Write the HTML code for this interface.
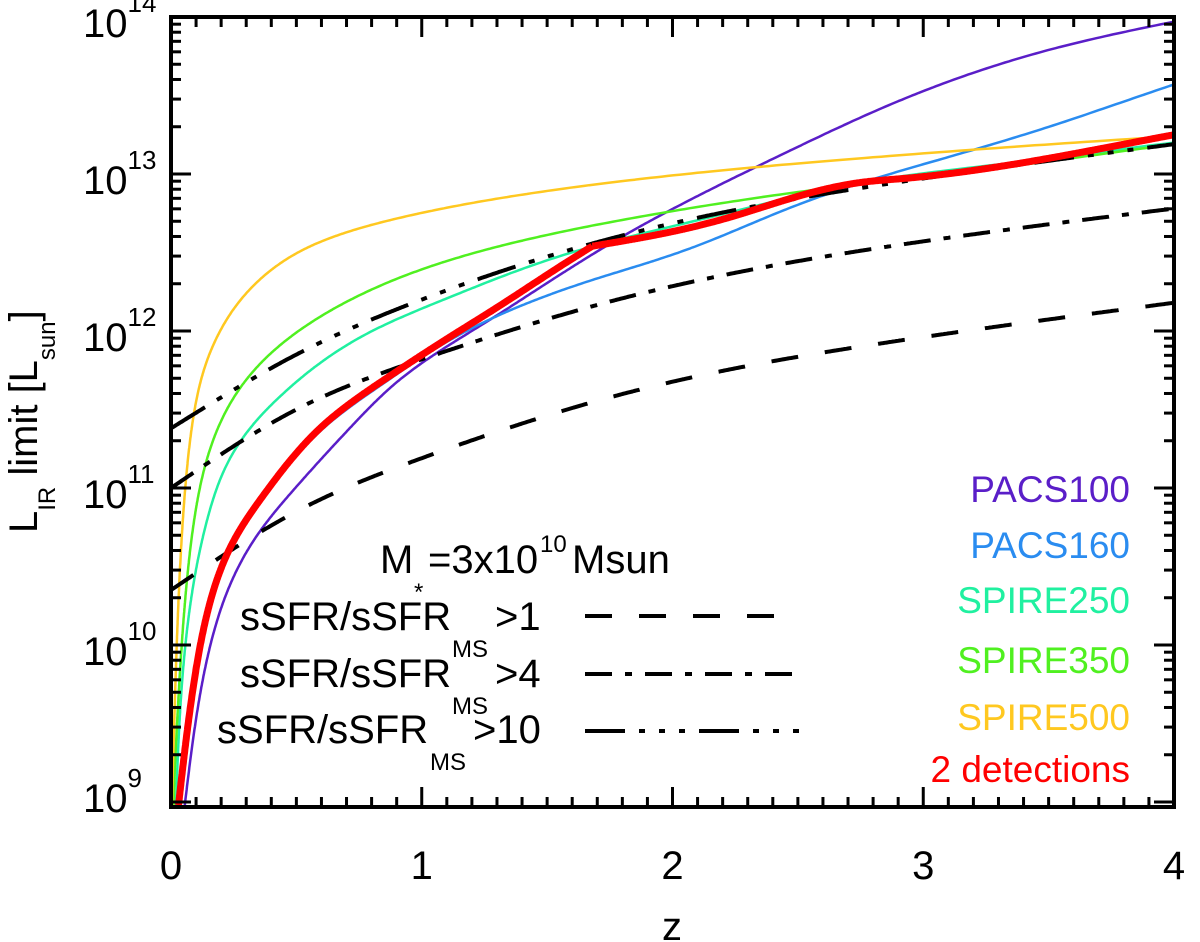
<!DOCTYPE html>
<html><head><meta charset="utf-8"><style>
html,body{margin:0;padding:0;background:#fff;}
svg{display:block;font-family:"Liberation Sans",Arial,sans-serif;}
</style></head><body>
<svg id="chart" width="1200" height="942" viewBox="0 0 1200 942">
<g id="curves"></g>
<rect x="171" y="17" width="1003" height="790" fill="none" stroke="#000" stroke-width="4"/>
<g id="ticks"></g>
<g id="labels" font-size="40"></g>
<text x="672" y="940" font-size="40" text-anchor="middle">z</text>
<text transform="translate(37,533) rotate(-90)" font-size="40">L<tspan font-size="24" dy="18">IR</tspan><tspan dy="-18"> limit [L</tspan><tspan font-size="24" dy="18">sun</tspan><tspan dy="-18">]</tspan></text>
<g font-size="37" text-anchor="end">
<text x="1130" y="502" fill="#5a1ec8">PACS100</text>
<text x="1130" y="558" fill="#2a8cf0">PACS160</text>
<text x="1130" y="613" fill="#20f0a0">SPIRE250</text>
<text x="1130" y="673" fill="#50f020">SPIRE350</text>
<text x="1130" y="730" fill="#ffc820">SPIRE500</text>
<text x="1130" y="782" fill="#ff0000">2 detections</text>
</g>
<g font-size="40">
<text x="380" y="573">M</text>
<text x="414" y="600" font-size="24">*</text>
<text x="428" y="573">=3x10</text>
<text x="540" y="552" font-size="24">10</text>
<text x="572" y="573">Msun</text>
<text x="240" y="630">sSFR/sSFR</text>
<text x="452" y="657" font-size="24">MS</text>
<text x="495" y="630">&gt;1</text>
<text x="240" y="687">sSFR/sSFR</text>
<text x="452" y="714" font-size="24">MS</text>
<text x="495" y="687">&gt;4</text>
<text x="217" y="743">sSFR/sSFR</text>
<text x="430" y="770" font-size="24">MS</text>
<text x="473" y="743">&gt;10</text>
<line x1="585" y1="616" x2="775" y2="616" stroke="#000" stroke-width="4" stroke-dasharray="27,27"/>
<line x1="585" y1="674" x2="805" y2="674" stroke="#000" stroke-width="4" stroke-dasharray="27,13,7,13"/>
<line x1="585" y1="731" x2="805" y2="731" stroke="#000" stroke-width="4" stroke-dasharray="40,14,6,14,6,14,6,14"/>
</g>
</svg>
<script>
const pacs100Z=[0.055,0.1,0.24,0.49,0.73,0.89,1.3,1.82,2.47,2.91,3.5,4];
const pacs100L=[8.98,9.53,10.4,10.99,11.41,11.66,12.1,12.62,13.15,13.47,13.79,13.97];
const pacs160Z=[0.035,0.11,0.27,0.367,0.594,0.86,1.11,1.71,2.11,2.51,2.91,3.5,4];
const pacs160L=[8.98,9.92,10.7,10.93,11.36,11.68,11.94,12.34,12.55,12.81,13.02,13.3,13.57];
const spire250Z=[0.02,0.04,0.135,0.195,0.46,0.79,1.15,1.64,2.24,2.77,3.4,4];
const spire250L=[8.98,9.67,10.74,11.05,11.62,11.99,12.24,12.52,12.76,12.95,13.08,13.2];
const spire350Z=[0.01,0.03,0.11,0.195,0.594,1.15,1.95,2.77,3.4,4];
const spire350L=[8.98,9.67,10.96,11.41,12.09,12.47,12.75,12.94,13.06,13.19];
const spire500Z=[0.004,0.016,0.1,0.18,0.37,0.53,0.91,2.31,2.91,4];
const spire500L=[8.98,9.67,11.55,11.95,12.35,12.52,12.72,13.04,13.12,13.24];
const detZ=[0.03,0.11,0.27,0.367,0.594,0.86,1.15,1.3,1.68,2.24,2.77,2.91,3.5,4];
const detL=[8.98,9.94,10.72,10.95,11.38,11.70,12.0,12.15,12.54,12.73,12.95,12.97,13.1,13.25];
const ssfrZ=[0,0.5,1,1.78,2.91,4];
const ssfr1L=[10.35,10.85,11.19,11.59,11.94,12.18];
const ssfr4L=[11.0,11.5,11.82,12.2,12.55,12.78];
const ssfr10L=[11.38,11.85,12.2,12.6,12.95,13.19];
const xTicks=[0,1,2,3,4];
const yTicks=[9,10,11,12,13,14];

const X0=171,X1=1174,YT=17,YB=807;
const xS=z=>X0+(z/4)*(X1-X0);
const yS=l=>YT+(14-l)*157;
const NS='http://www.w3.org/2000/svg';
function spline(xs,ys){
  const n=xs.length,h=[],al=[],l=[1],mu=[0],zz=[0],c=new Array(n).fill(0),b=[],d=[];
  for(let i=0;i<n-1;i++)h.push(xs[i+1]-xs[i]);
  for(let i=1;i<n-1;i++)al[i]=3/h[i]*(ys[i+1]-ys[i])-3/h[i-1]*(ys[i]-ys[i-1]);
  for(let i=1;i<n-1;i++){l[i]=2*(xs[i+1]-xs[i-1])-h[i-1]*mu[i-1];mu[i]=h[i]/l[i];zz[i]=(al[i]-h[i-1]*zz[i-1])/l[i];}
  for(let j=n-2;j>=0;j--){c[j]=(j>0?zz[j]:0)-mu[j]*c[j+1];if(j===0)c[0]=0;
    b[j]=(ys[j+1]-ys[j])/h[j]-h[j]*(c[j+1]+2*c[j])/3;d[j]=(c[j+1]-c[j])/(3*h[j]);}
  return x=>{let i=0;while(i<n-2&&x>xs[i+1])i++;const t=x-xs[i];return ys[i]+b[i]*t+c[i]*t*t+d[i]*t*t*t;};
}
// off === null -> linear z; otherwise interpolate in log10(z+off)
function pathFrom(zs,ls,off){
  const fw=off===null?(z=>z):(z=>Math.log10(z+off));
  const bw=off===null?(v=>v):(v=>Math.pow(10,v)-off);
  const u=zs.map(fw);
  const f=spline(u,ls);const pts=[];
  const a=u[0],b=u[u.length-1],N=600;
  for(let k=0;k<=N;k++){const v=a+(b-a)*k/N;pts.push([xS(bw(v)),yS(f(v))]);}
  return 'M'+pts.map(p=>p[0].toFixed(1)+','+p[1].toFixed(1)).join(' L');
}
const g=document.getElementById('curves');
function addCurve(zs,ls,off,color,w,dash,name){
  const el=document.createElementNS(NS,'path');
  el.setAttribute('d',pathFrom(zs,ls,off));
  el.setAttribute('fill','none');el.setAttribute('stroke',color);el.setAttribute('stroke-width',w);
  el.setAttribute('stroke-linejoin','round');
  if(dash)el.setAttribute('stroke-dasharray',dash);
  
  
  g.appendChild(el);
}
const cp=document.createElementNS(NS,'clipPath');cp.setAttribute('id','clip');
const cr=document.createElementNS(NS,'rect');cr.setAttribute('x',X0);cr.setAttribute('y',YT);cr.setAttribute('width',X1-X0);cr.setAttribute('height',YB-YT);
cp.appendChild(cr);document.getElementById('chart').appendChild(cp);g.setAttribute('clip-path','url(#clip)');
addCurve(pacs100Z,pacs100L,0.3,'#5a1ec8',2.5,null,'pacs100-line');
addCurve(pacs160Z,pacs160L,0.3,'#2a8cf0',2.5,null,'pacs160-line');
addCurve(spire250Z,spire250L,0,'#20f0a0',2.5,null,'spire250-line');
addCurve(spire350Z,spire350L,0,'#50f020',2.5,null,'spire350-line');
addCurve(spire500Z,spire500L,0,'#ffc820',2.5,null,'spire500-line');
addCurve(ssfrZ,ssfr1L,null,'#000',4,'27,27','ssfr1-line');
addCurve(ssfrZ,ssfr4L,null,'#000',4,'27,13,7,13','ssfr4-line');
addCurve(ssfrZ,ssfr10L,null,'#000',4,'40,14,6,14,6,14,6,14','ssfr10-line');
// detections: kink at z=1.68, drawn as two smooth pieces
const kink=detZ.indexOf(1.68)>0?detZ.indexOf(1.68):8;
addCurve(detZ.slice(0,kink+1),detL.slice(0,kink+1),0.3,'#ff0000',7,null,'detections-line-low');
addCurve(detZ.slice(kink),detL.slice(kink),0.3,'#ff0000',7,null,'detections-line-high');

const t=document.getElementById('ticks'),lb=document.getElementById('labels');
function ln(x1,y1,x2,y2,name){const l=document.createElementNS(NS,'line');
  l.setAttribute('x1',x1);l.setAttribute('y1',y1);l.setAttribute('x2',x2);l.setAttribute('y2',y2);
  l.setAttribute('stroke','#000');l.setAttribute('stroke-width',3);
  
  
  t.appendChild(l);}
for(let i=0;i<=40;i++){const z=i/10,x=xS(z),maj=i%10===0,len=maj?20:10;
  ln(x,YB,x,YB-len,'x-tick');ln(x,YT,x,YT+len,'x-tick');}
for(let d=9;d<14;d++){for(let m=1;m<10;m++){const y=yS(d+Math.log10(m));if(y>YB)continue;const len=m===1?20:10;
  ln(X0,y,X0+len,y,'y-tick');ln(X1,y,X1-len,y,'y-tick');}}
ln(X0,yS(14),X0+20,yS(14),'y-tick');
xTicks.forEach(v=>{const e=document.createElementNS(NS,'text');e.setAttribute('x',xS(v));e.setAttribute('y',879);
  e.setAttribute('text-anchor','middle');e.textContent=v;
  
  
  lb.appendChild(e);});
yTicks.forEach(v=>{const e=document.createElementNS(NS,'text');e.setAttribute('x',83);e.setAttribute('y',yS(v)+(v===9?10:20));
  e.innerHTML='10<tspan font-size="26" dy="-25">'+v+'</tspan>';
  
  
  lb.appendChild(e);});
</script>
</body></html>
